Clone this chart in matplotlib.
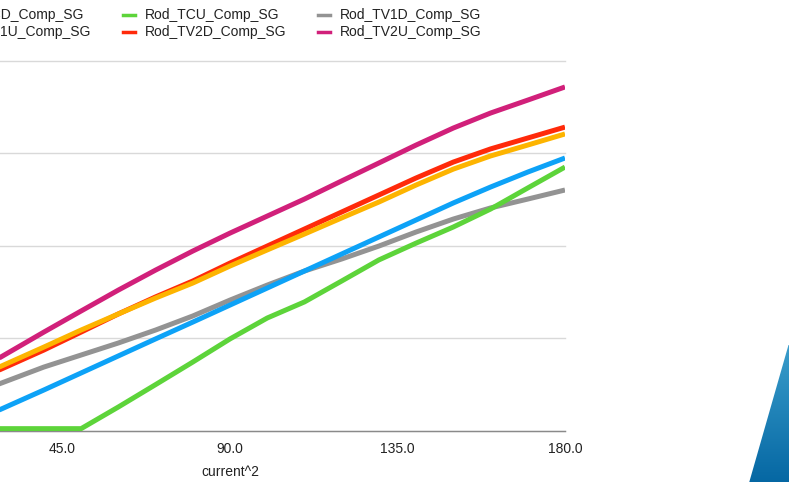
import matplotlib
matplotlib.use("Agg")
import matplotlib.pyplot as plt
import matplotlib.patches as mpatches
from matplotlib.lines import Line2D
import numpy as np

plt.rcParams["font.family"] = ["Liberation Sans", "DejaVu Sans"]

# ── Data ──────────────────────────────────────────────────────────────────────
x_vals = [28, 40, 50, 60, 70, 80, 90, 100, 110, 120, 130, 140, 150, 160, 170, 180]

rod_tcd  = [11.1, 21.9, 31.1, 40.3, 49.5, 58.6, 67.8, 77.0, 86.2, 95.4, 104.6, 113.8, 123.0, 131.6, 139.7, 147.3]
rod_tcu  = [1.0, 1.0, 1.0, 12.7, 24.8, 37.0, 49.5, 60.8, 69.5, 80.8, 92.2, 101.3, 110.0, 119.7, 131.1, 142.4]
rod_tv1d = [25.2, 34.3, 40.8, 47.3, 54.3, 61.9, 70.5, 78.6, 86.2, 92.7, 99.7, 107.3, 114.3, 120.3, 125.1, 130.0]
rod_tv1u = [34.3, 45.1, 54.3, 63.0, 71.6, 79.7, 88.9, 97.6, 106.2, 114.9, 123.5, 132.7, 141.3, 148.4, 154.3, 160.3]
rod_tv2d = [32.7, 43.5, 53.2, 63.0, 72.2, 80.8, 90.5, 99.7, 108.9, 118.1, 127.3, 136.5, 145.1, 152.2, 158.1, 164.0]
rod_tv2u = [39.2, 53.2, 64.6, 75.9, 86.7, 97.0, 106.7, 115.9, 125.1, 134.9, 144.6, 154.3, 163.5, 171.6, 178.6, 185.7]

names = ["Rod_TCD_Comp_SG", "Rod_TCU_Comp_SG", "Rod_TV1D_Comp_SG",
         "Rod_TV1U_Comp_SG", "Rod_TV2D_Comp_SG", "Rod_TV2U_Comp_SG"]
series = [rod_tcd, rod_tcu, rod_tv1d, rod_tv1u, rod_tv2d, rod_tv2u]

BLUE   = "#0DA2F7"
GREEN  = "#5DD43A"
GREY   = "#939393"
ORANGE = "#FDB400"
RED    = "#FF2A0A"
PINK   = "#D1207A"
colors = [BLUE, GREEN, GREY, ORANGE, RED, PINK]

W, H = 789, 482
fig = plt.figure(figsize=(W / 100, H / 100), dpi=100)
fig.patch.set_facecolor("white")

# axes extends past the left edge of the picture (cropped view)
left_px, right_px, top_px, base_px = -105, 565, 60.5, 430.5
ax = fig.add_axes([left_px / W, (H - base_px) / H,
                   (right_px - left_px) / W, (base_px - top_px) / H])
ax.set_xlim(0, 180)
ax.set_ylim(0, 200)

# draw order so overlaps look like the reference
order = [2, 0, 1, 4, 3, 5]
for i in order:
    ax.plot(x_vals, series[i], color=colors[i], linewidth=3.6,
            solid_capstyle="butt", zorder=3)

ax.set_yticks([0, 50, 100, 150, 200])
ax.set_yticklabels([])
ax.set_xticks([45, 90, 135, 180])
ax.set_xticklabels(["45.0", "90.0", "135.0", "180.0"], fontsize=10, color="#222222")
ax.tick_params(axis="both", length=0)
ax.tick_params(axis="x", pad=8)
ax.grid(axis="y", color="#D9D9D9", linewidth=1.0, zorder=0)
ax.grid(axis="x", visible=False)
for s in ["top", "right", "left"]:
    ax.spines[s].set_visible(False)
ax.spines["bottom"].set_color("#8A8A8A")
ax.spines["bottom"].set_linewidth(1.0)
ax.spines["bottom"].set_zorder(2)
for gl in ax.get_ygridlines():
    gl.set_clip_on(False)
ax.set_xlabel("current^2", fontsize=10, color="#222222", labelpad=7)

# ── Legend (3 columns, first column cut off by the crop) ──────────────────────
col_x = [-50, 145, 340]
row_y = [15, 32]
for k, (name, c) in enumerate(zip(names, colors)):
    col, row = k % 3, k // 3
    tx, ty = col_x[col], row_y[row]
    fig.add_artist(Line2D([(tx - 22) / W, (tx - 10) / W], [1 - ty / H, 1 - ty / H],
                          color=c, linewidth=2.5, transform=fig.transFigure))
    fig.text(tx / W, 1 - ty / H, name, fontsize=10, color="#222222",
             ha="left", va="center")

# ── Blue slide decoration in the lower-right corner ───────────────────────────
deco = fig.add_axes([0, 0, 1, 1], zorder=-1)
deco.set_xlim(0, W)
deco.set_ylim(H, 0)
deco.axis("off")
poly = mpatches.Polygon([(749, 483), (788.5, 345), (790, 345), (790, 483)],
                        closed=True, facecolor="none", edgecolor="none")
deco.add_patch(poly)
grad = np.linspace(0, 1, 200).reshape(-1, 1)
img = deco.imshow(grad, cmap=matplotlib.colors.LinearSegmentedColormap.from_list(
    "deco", ["#3A9DCB", "#0567A3"]), extent=(745, 790, 483, 345),
    aspect="auto", origin="upper")
img.set_clip_path(poly)
deco.set_xlim(0, W)
deco.set_ylim(H, 0)

fig.savefig("out.png", dpi=100)
